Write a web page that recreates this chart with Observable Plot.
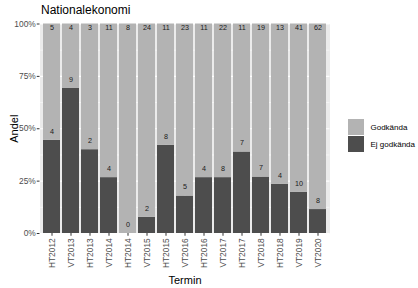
<!DOCTYPE html>
<html><head><meta charset="utf-8">
<script src="https://cdn.jsdelivr.net/npm/d3@7"></script>
<script src="https://cdn.jsdelivr.net/npm/@observablehq/plot@0.6"></script>
<style>
body{margin:0;background:#fff;font-family:"Liberation Sans",Arial,sans-serif}
#wrap{position:relative;width:418px;height:288px;overflow:hidden}
#wrap svg{position:absolute;left:0;top:0}
.title{position:absolute;left:41px;top:3px;font-size:12px;color:#000;white-space:nowrap}
.legend{position:absolute;left:346.5px;top:118.5px;font-size:8px;color:#000;white-space:nowrap}
.legend .row{display:flex;align-items:center;height:17.3px}
.legend .key{width:16px;height:16px;margin-right:6px;border:0.65px solid #fff;box-sizing:content-box;flex:none}
</style></head><body><div id="wrap"></div>
<script>
const terms = ["HT2012","VT2013","HT2013","VT2014","HT2014","VT2015","HT2015","VT2016","HT2016","VT2017","HT2017","VT2018","HT2018","VT2019","VT2020"];
const godkanda = [5,4,3,11,8,24,11,23,11,22,11,19,13,41,62];
const ejGodkanda = [4,9,2,4,0,2,8,5,4,8,7,7,4,10,8];
const series = ["Godkända","Ej godkända"];
const colors = ["#B3B3B3","#4D4D4D"];
const yTicks = [0,0.25,0.5,0.75,1];
const yMinor = [0.125,0.375,0.625,0.875];

const rows = [];
terms.forEach((t,i)=>{
  const tot = godkanda[i] + ejGodkanda[i];
  const f = ejGodkanda[i] / tot;
  rows.push({term:t, status:"Ej godkända", n:ejGodkanda[i], y1:0, y2:f});
  rows.push({term:t, status:"Godkända", n:godkanda[i], y1:f, y2:1});
});
const ejRows = rows.filter(d=>d.status==="Ej godkända");
const godRows = rows.filter(d=>d.status==="Godkända");

const chart = Plot.plot({
  width: 418, height: 288,
  marginLeft: 39.5, marginRight: 88.5, marginTop: 23.5, marginBottom: 55,
  style: {fontFamily:"Liberation Sans, Arial, sans-serif", background:"transparent", overflow:"visible"},
  x: {type:"band", domain: terms, paddingInner: 0.1, paddingOuter: 0.15},
  y: {domain:[0,1]},
  color: {domain: series, range: colors},
  marks: [
    Plot.frame({fill:"#EBEBEB", stroke:null}),
    Plot.ruleY(yMinor, {stroke:"white", strokeWidth:0.55}),
    Plot.ruleY(yTicks, {stroke:"white", strokeWidth:1.1}),
    Plot.tickX(terms, {x: d=>d, stroke:"white", strokeWidth:1.1}),
    Plot.barY(rows, {x:"term", y1:"y1", y2:"y2", fill:"status"}),
    Plot.text(godRows, {x:"term", y:()=>1, text:"n", dy:4, fontSize:7.2, fill:"#1a1a1a"}),
    Plot.text(ejRows, {x:"term", y:"y2", text:"n", dy:-9, fontSize:7.2, fill:"#1a1a1a"}),
    Plot.axisY({ticks: yTicks, tickFormat: d3.format(".0%"), tickSize: 2.75, tickPadding: 1.5, fontSize: 8.4, stroke:"#333", fill:"#4D4D4D",
      label:"Andel", labelAnchor:"center", labelArrow:"none", labelOffset: 30}),
    Plot.axisX({tickRotate:-90, tickSize: 2.75, tickPadding: 2, fontSize: 8.4, stroke:"#333", fill:"#4D4D4D",
      label:"Termin", labelAnchor:"center", labelArrow:"none", labelOffset: 50})
  ]
});
const wrap = document.getElementById("wrap");
wrap.appendChild(chart);
chart.querySelectorAll("g[aria-label='y-axis label'] text, g[aria-label='x-axis label'] text").forEach(t=>{t.setAttribute("font-size","11"); t.setAttribute("fill","#000");});

const title = document.createElement("div");
title.className = "title"; title.textContent = "Nationalekonomi";
wrap.appendChild(title);

const leg = document.createElement("div");
leg.className = "legend";
series.forEach((s,i)=>{
  const r = document.createElement("div"); r.className = "row";
  const k = document.createElement("div"); k.className = "key"; k.style.background = colors[i];
  const l = document.createElement("span"); l.textContent = s;
  r.appendChild(k); r.appendChild(l); leg.appendChild(r);
});
wrap.appendChild(leg);
</script></body></html>
